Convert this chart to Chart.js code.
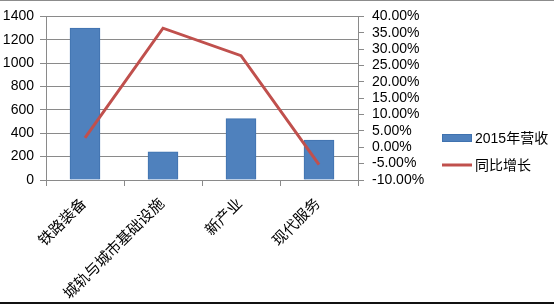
<!DOCTYPE html>
<html>
<head>
<meta charset="utf-8">
<script src="https://cdn.jsdelivr.net/npm/chart.js@4"></script>
<style>
  html, body { margin: 0; padding: 0; background: #fff; }
  #wrap { width: 554px; height: 304px; position: relative; }
</style>
</head>
<body>
<div id="wrap"><canvas id="chart"></canvas></div>
<script>
(function(){
  const categories = ['铁路装备', '城轨与城市基础设施', '新产业', '现代服务'];
  const revenue = [1300, 240, 525, 342];
  const growth = [2.9, 36.4, 28.0, -5.3];
  const seriesNames = ['2015年营收', '同比增长'];

  const gridColor = '#8a8a8a';
  const numFont = { family: "'Liberation Sans', Arial, sans-serif", size: 14 };
  const legendFont = "14px 'Liberation Sans', 'Noto Sans CJK SC', sans-serif";

  // top/bottom frame lines of the original picture
  const frame = {
    id: 'frame',
    afterDraw(chart) {
      const ctx = chart.ctx;
      ctx.save();
      ctx.fillStyle = '#8c8c8c';
      ctx.fillRect(0, 0, chart.width, 1);
      ctx.fillStyle = '#111';
      ctx.fillRect(0, chart.height - 2, chart.width, 2);
      ctx.restore();
    }
  };

  // the built-in legend gets squeezed to a third of half the width, so draw it here
  const sideLegend = {
    id: 'sideLegend',
    afterDraw(chart) {
      const ctx = chart.ctx;
      const x = chart.scales.y1.right + 4;
      const items = seriesNames.map(name => chart.data.datasets.find(d => d.label === name));
      ctx.save();
      ctx.font = legendFont;
      ctx.textBaseline = 'middle';
      items.forEach((ds, i) => {
        const y = 138 + i * 27;
        if (ds.type === 'bar') {
          ctx.fillStyle = ds.backgroundColor;
          ctx.fillRect(x, y - 4, 30, 8);
          ctx.strokeStyle = ds.borderColor;
          ctx.lineWidth = 1;
          ctx.strokeRect(x + 0.5, y - 3.5, 29, 7);
        } else {
          ctx.strokeStyle = ds.borderColor;
          ctx.lineWidth = ds.borderWidth;
          ctx.beginPath();
          ctx.moveTo(x, y);
          ctx.lineTo(x + 30, y);
          ctx.stroke();
        }
        ctx.fillStyle = '#000';
        ctx.fillText(ds.label, x + 33, y + 1);
      });
      ctx.restore();
    }
  };

  new Chart(document.getElementById('chart'), {
    data: {
      labels: categories,
      datasets: [{
        type: 'line',
        label: seriesNames[1],
        data: growth,
        yAxisID: 'y1',
        borderColor: '#C0504D',
        backgroundColor: '#C0504D',
        borderWidth: 3,
        pointRadius: 0,
        order: 0,
      }, {
        type: 'bar',
        label: seriesNames[0],
        data: revenue,
        yAxisID: 'y',
        backgroundColor: '#4F81BD',
        borderColor: '#3F72AF',
        borderWidth: 1,
        barThickness: 30,
        order: 1,
      }]
    },
    options: {
      responsive: true,
      maintainAspectRatio: false,
      animation: false,
      layout: { padding: { top: 16, left: 0, right: 116, bottom: 0 } },
      plugins: {
        tooltip: { enabled: false },
        legend: { display: false }
      },
      scales: {
        x: {
          grid: { offset: true, drawOnChartArea: false, color: gridColor, tickLength: 6 },
          border: { color: gridColor },
          ticks: {
            maxRotation: 45, minRotation: 45, padding: 8, labelOffset: -2,
            color: '#000',
            font: { family: "'Noto Sans CJK SC', sans-serif", size: 15 },
          },
          afterFit(scale) { scale.height = 124; }
        },
        y: {
          position: 'left',
          min: 0, max: 1400,
          grid: { color: gridColor, tickLength: 6 },
          border: { color: gridColor },
          ticks: { stepSize: 200, color: '#000', font: numFont, padding: 6, callback: v => String(v) },
          afterFit(scale) { scale.width = 46; }
        },
        y1: {
          position: 'right',
          min: -10, max: 40,
          grid: { drawOnChartArea: false, color: gridColor, tickLength: 6 },
          border: { color: gridColor },
          ticks: {
            stepSize: 5, autoSkip: false, color: '#000', font: numFont, padding: 8,
            callback: v => v.toFixed(2) + '%'
          },
          afterFit(scale) { scale.width = 80; }
        }
      }
    },
    plugins: [frame, sideLegend]
  });
})();
</script>
</body>
</html>
